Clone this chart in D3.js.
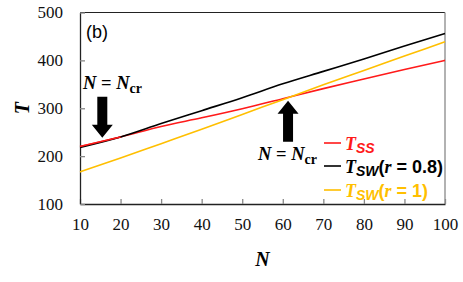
<!DOCTYPE html>
<html>
<head>
<meta charset="utf-8">
<script src="https://cdn.jsdelivr.net/npm/d3@7"></script>
<style>
body { margin: 0; background: #fff; }
svg { display: block; }
</style>
</head>
<body>
<div id="chart"></div>
<script>
// values
var nValues = [10, 20, 30, 40, 50, 60, 70, 80, 90, 100];
var tSS = [220, 240, 262, 280, 299, 320, 341, 361, 381, 400];
var tSW08 = [218, 240, 268, 295, 322, 351, 377, 403, 430, 456];
var tSW1 = [167, 196, 226, 256, 287, 318, 349, 379, 409, 439];
var xTicks = [10, 20, 30, 40, 50, 60, 70, 80, 90, 100];
var yTicks = [100, 200, 300, 400, 500];
// arrows: N position, T at tip, direction
var arrowsAt = [{n: 15.5, t: 230, dir: "down"}, {n: 61.3, t: 322, dir: "up"}];

var SERIF = '"Liberation Serif", "DejaVu Serif", serif';
var SANS = '"Liberation Sans", Arial, sans-serif';

var width = 463, height = 282;
var margin = {top: 12.5, right: 18, bottom: 78, left: 80};

var svg = d3.select("#chart").append("svg")
    .attr("width", width)
    .attr("height", height);

var x = d3.scaleLinear().domain([10, 100]).range([margin.left, width - margin.right]);
var y = d3.scaleLinear().domain([100, 500]).range([height - margin.bottom, margin.top]);

// frame
svg.append("line").attr("x1", x(10)).attr("x2", x(100)).attr("y1", y(500)).attr("y2", y(500))
    .attr("stroke", "#222").attr("stroke-width", 1);
svg.append("line").attr("x1", x(100)).attr("x2", x(100)).attr("y1", y(500)).attr("y2", y(100))
    .attr("stroke", "#999").attr("stroke-width", 1.5);

// axes, ticks inward
var xAxis = svg.append("g")
    .attr("transform", "translate(0," + y(100) + ")")
    .call(d3.axisBottom(x).tickValues(xTicks).tickSizeInner(-5).tickSizeOuter(0).tickPadding(12));
var yAxis = svg.append("g")
    .attr("transform", "translate(" + x(10) + ",0)")
    .call(d3.axisLeft(y).tickValues(yTicks).tickSizeInner(-5).tickSizeOuter(0).tickPadding(17));

[xAxis, yAxis].forEach(function(g) {
    g.attr("font-family", null).attr("font-size", null);
    g.select(".domain").attr("stroke", "#222").attr("stroke-width", 1.3);
    g.selectAll(".tick line").attr("stroke", "#888").attr("stroke-width", 1.3);
    g.selectAll(".tick text")
        .style("font-family", SERIF)
        .style("font-size", "17px")
        .attr("fill", "#111");
});
xAxis.selectAll(".tick text").attr("dy", "0.85em");

// axis titles
svg.append("text")
    .attr("x", x(55)).attr("y", 266)
    .attr("text-anchor", "middle")
    .style("font-family", SERIF)
    .style("font-size", "20px").style("font-weight", "bold").style("font-style", "italic")
    .text("N");
svg.append("text")
    .attr("transform", "translate(29," + y(300) + ") rotate(-90)")
    .attr("text-anchor", "middle")
    .style("font-family", SERIF)
    .style("font-size", "20px").style("font-weight", "bold").style("font-style", "italic")
    .text("T");

// curves
var line = d3.line()
    .x(function(d) { return x(d[0]); })
    .y(function(d) { return y(d[1]); })
    .curve(d3.curveMonotoneX);

var series = [
    {name: "ss", vals: tSS, color: "#ff1a1a"},
    {name: "sw1", vals: tSW1, color: "#ffbf00"},
    {name: "sw08", vals: tSW08, color: "#000"}
];
series.forEach(function(s) {
    svg.append("path")
        .datum(d3.zip(nValues, s.vals))
        .attr("d", line)
        .attr("fill", "none")
        .attr("stroke", s.color)
        .attr("stroke-width", 1.6);
});
// redraw red on top near the start where it overlaps black
svg.append("path")
    .datum(d3.zip(nValues, tSS).slice(0, 2))
    .attr("d", line)
    .attr("fill", "none")
    .attr("stroke", "#ff1a1a")
    .attr("stroke-width", 1.6);

// arrows
arrowsAt.forEach(function(a) {
    var cx = x(a.n), tip = y(a.t) + (a.dir == "down" ? -4 : 3);
    var s = a.dir == "down" ? -1 : 1; // direction from tip toward tail
    var headLen = 13, shaftLen = 28, headW = 10.5, shaftW = 5;
    var pts = [
        [cx, tip],
        [cx + headW, tip + s * headLen],
        [cx + shaftW, tip + s * headLen],
        [cx + shaftW, tip + s * (headLen + shaftLen)],
        [cx - shaftW, tip + s * (headLen + shaftLen)],
        [cx - shaftW, tip + s * headLen],
        [cx - headW, tip + s * headLen]
    ];
    svg.append("path")
        .attr("d", "M" + pts.join("L") + "Z")
        .attr("fill", "#000");
});

// N = Ncr labels
function ncrLabel(px, py) {
    var t = svg.append("text")
        .attr("x", px).attr("y", py)
        .style("font-family", SERIF)
        .style("font-size", "18.5px").style("font-weight", "bold");
    t.append("tspan").style("font-style", "italic").text("N");
    t.append("tspan").text(" = ");
    t.append("tspan").style("font-style", "italic").text("N");
    t.append("tspan").attr("dy", 4).style("font-size", "14px").text("cr");
}
ncrLabel(83, 89);
ncrLabel(258, 160);

// panel tag
svg.append("text")
    .attr("x", 86).attr("y", 38)
    .style("font-family", SANS)
    .style("font-size", "18px")
    .text("(b)");

// legend
var legendItems = [
    {color: "#ff1a1a", sub: "SS", rest: null, ry: 143},
    {color: "#000", sub: "SW", rest: "0.8", ry: 166},
    {color: "#ffbf00", sub: "SW", rest: "1", ry: 190}
];
legendItems.forEach(function(d) {
    svg.append("line")
        .attr("x1", 324).attr("x2", 341)
        .attr("y1", d.ry).attr("y2", d.ry)
        .attr("stroke", d.color).attr("stroke-width", 1.6);
    var t = svg.append("text")
        .attr("x", 345).attr("y", d.ry + 7)
        .attr("fill", d.color)
        .style("font-size", "18px").style("font-weight", "bold");
    t.append("tspan").style("font-family", SERIF).style("font-style", "italic").text("T");
    t.append("tspan").style("font-family", SANS).style("font-style", "italic")
        .style("font-size", "14px").attr("dy", 3).text(d.sub);
    if (d.rest != null) {
        t.append("tspan").style("font-family", SANS).attr("dy", -3).text("(");
        t.append("tspan").style("font-family", SERIF).style("font-style", "italic").text("r");
        t.append("tspan").style("font-family", SANS).text(" = " + d.rest + ")");
    }
});
</script>
</body>
</html>
